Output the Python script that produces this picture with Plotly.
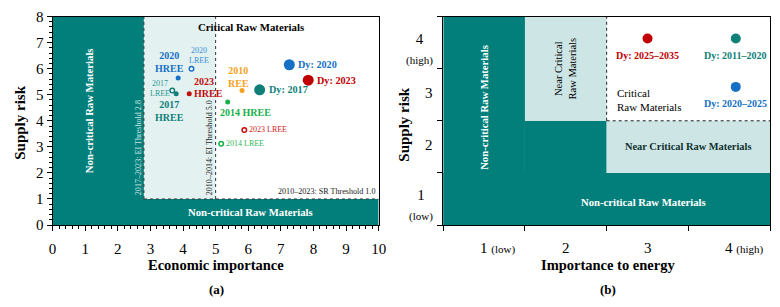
import plotly.graph_objects as go

# ---------------- Panel (a) data ----------------
hree_labels = ["2020<br>HREE", "2017<br>HREE", "2023", "2010<br>REE", "2014 HREE"]
hree_x = [3.85, 3.79, 4.19, 5.81, 5.37]
hree_y = [5.64, 5.04, 5.04, 5.16, 4.72]
hree_colors = ["#1670c4", "#0f7f78", "#c40d0d", "#f7a11c", "#16b04a"]

lree_labels = ["2020<br>LREE", "2017<br>LREE", "2023 LREE", "2014 LREE"]
lree_x = [4.26, 3.67, 5.88, 5.17]
lree_y = [6.00, 5.16, 3.65, 3.12]
lree_colors = ["#1670c4", "#0f7f78", "#c40d0d", "#16b04a"]

dy_labels = ["Dy: 2017", "Dy: 2020", "Dy: 2023"]
dy_x = [6.35, 7.26, 7.84]
dy_y = [5.19, 6.15, 5.56]
dy_colors = ["#0f7f78", "#1670c4", "#c00000"]

ei_thresholds = [2.8, 5.0]
sr_threshold = 1.0
a_xmax, a_ymax = 10, 8

# ---------------- Panel (b) data ----------------
b_labels = ["Dy: 2011–2020", "Dy: 2020–2025", "Dy: 2025–2035"]
b_x = [3.58, 3.58, 2.5]
b_y = [3.58, 2.65, 3.58]
b_colors = ["#0f8078", "#1670c4", "#c00000"]
b_xticks = ["1", "2", "3", "4"]
b_yticks = ["1", "2", "3", "4"]

TEAL = "#037f7b"
LIGHT_A = "#e3f1f1"
LIGHT_B = "#cde6e5"
FONT = "Liberation Serif"

fig = go.Figure()

# panel a markers
fig.add_trace(go.Scatter(x=hree_x, y=hree_y, mode="markers", xaxis="x", yaxis="y",
                         marker=dict(size=5, color=hree_colors), showlegend=False))
fig.add_trace(go.Scatter(x=lree_x, y=lree_y, mode="markers", xaxis="x", yaxis="y",
                         marker=dict(size=4.5, color="white", line=dict(width=1.5, color=lree_colors)),
                         showlegend=False))
fig.add_trace(go.Scatter(x=dy_x, y=dy_y, mode="markers", xaxis="x", yaxis="y",
                         marker=dict(size=11, color=dy_colors), showlegend=False))
# panel b markers
fig.add_trace(go.Scatter(x=b_x, y=b_y, mode="markers", xaxis="x2", yaxis="y2",
                         marker=dict(size=10, color=b_colors), showlegend=False))

shapes = []
# panel a regions
shapes.append(dict(type="rect", xref="x", yref="y", x0=0, x1=ei_thresholds[0], y0=0, y1=a_ymax,
                   fillcolor=TEAL, line_width=0, layer="below"))
shapes.append(dict(type="rect", xref="x", yref="y", x0=0, x1=a_xmax, y0=0, y1=sr_threshold,
                   fillcolor=TEAL, line_width=0, layer="below"))
shapes.append(dict(type="rect", xref="x", yref="y", x0=ei_thresholds[0], x1=ei_thresholds[1],
                   y0=sr_threshold, y1=a_ymax, fillcolor=LIGHT_A, line_width=0, layer="below"))
for t in ei_thresholds:
    shapes.append(dict(type="line", xref="x", yref="y", x0=t, x1=t, y0=sr_threshold, y1=a_ymax,
                       line=dict(color="#333333", width=1, dash="dot"), layer="below"))
shapes.append(dict(type="line", xref="x", yref="y", x0=ei_thresholds[0], x1=a_xmax,
                   y0=sr_threshold, y1=sr_threshold,
                   line=dict(color="#333333", width=1, dash="dot"), layer="below"))
# panel b regions
shapes.append(dict(type="rect", xref="x2", yref="y2", x0=0, x1=1, y0=0, y1=4,
                   fillcolor=TEAL, line_width=0, layer="below"))
shapes.append(dict(type="rect", xref="x2", yref="y2", x0=0, x1=4, y0=0, y1=1,
                   fillcolor=TEAL, line_width=0, layer="below"))
shapes.append(dict(type="rect", xref="x2", yref="y2", x0=1, x1=2, y0=1, y1=2,
                   fillcolor=TEAL, line_width=0, layer="below"))
shapes.append(dict(type="rect", xref="x2", yref="y2", x0=1, x1=2, y0=2, y1=4,
                   fillcolor=LIGHT_B, line_width=0, layer="below"))
shapes.append(dict(type="rect", xref="x2", yref="y2", x0=2, x1=4, y0=1, y1=2,
                   fillcolor=LIGHT_B, line_width=0, layer="below"))
shapes.append(dict(type="line", xref="x2", yref="y2", x0=2, x1=2, y0=2, y1=4,
                   line=dict(color="#222222", width=1, dash="dot"), layer="below"))
shapes.append(dict(type="line", xref="x2", yref="y2", x0=2, x1=4, y0=2, y1=2,
                   line=dict(color="#222222", width=1, dash="dot"), layer="below"))

ann = []

def A(text, x, y, xref="x", yref="y", size=12, color="black", bold=False, angle=0,
      xanchor="center", yanchor="middle", xshift=0, yshift=0, align="center"):
    t = f"<b>{text}</b>" if bold else text
    ann.append(dict(text=t, x=x, y=y, xref=xref, yref=yref, showarrow=False,
                    font=dict(family=FONT, size=size, color=color), textangle=angle,
                    xanchor=xanchor, yanchor=yanchor, xshift=xshift, yshift=yshift,
                    align=align))
    return ann[-1]

# panel a region text
A("Critical Raw Materials", 6.08, 7.6, size=10.8, bold=True)
A("Non-critical Raw Materials", 1.14, 4.4, size=10.7, bold=True, color="white", angle=-90)
A("Non-critical Raw Materials", 6.08, 0.5, size=10.7, bold=True, color="white")
A("2017–2023: EI Threshold 2.8", 2.62, 1.05, size=8.1, color="#cfe6e5", angle=-90,
  yanchor="bottom")
A("2010–2014: EI Threshold 5.0", 4.8, 1.05, size=8.1, color="#222222", angle=-90,
  yanchor="bottom")
A("2010–2023: SR Threshold 1.0", 9.95, 1.27, size=8.1, color="#222222", xanchor="right")

# panel a point labels
hree_label_colors = ["#1670c4", "#0f7f78", "#c40d0d", "#f7a11c", "#16b04a"]
hree_offsets = [(-9, 16, "center"), (-7, -17, "center"), (15, 12, "center"),
                (-4, 14, "center"), (-10, -10, "left")]
for lab, x, y, c, (dx, dy, xa) in zip(hree_labels, hree_x, hree_y, hree_label_colors, hree_offsets):
    A(lab, x, y, size=10, bold=True, color=c, xshift=dx, yshift=dy, xanchor=xa)
A("HREE", hree_x[2], hree_y[2], size=10, bold=True, color="#c40d0d", xshift=3, xanchor="left")

lree_label_colors = ["#3b8fd6", "#2a9990", "#d02020", "#2fb55a"]
lree_offsets = [(7, 13, "center"), (-12, 2, "center"), (3, 0, "left"), (3, 0, "left")]
for lab, x, y, c, (dx, dy, xa) in zip(lree_labels, lree_x, lree_y, lree_label_colors, lree_offsets):
    A(lab, x, y, size=8, color=c, xshift=dx, yshift=dy, xanchor=xa)

for lab, x, y, c in zip(dy_labels, dy_x, dy_y, dy_colors):
    A(lab, x, y, size=10.2, bold=True, color=c, xshift=7, xanchor="left")

# panel b texts
for lab, x, y, c in zip(b_labels, b_x, b_y, b_colors):
    A(lab, x, y, xref="x2", yref="y2", size=10, bold=True, color=c, yshift=-17)
A("Critical<br>Raw Materials", 2.1, 2.4, xref="x2", yref="y2", size=11, xanchor="left",
  align="left")
A("Near Critical<br>Raw Materials", 1.5, 3.0, xref="x2", yref="y2", size=10.5, angle=-90)
A("Near Critical Raw Materials", 3.0, 1.5, xref="x2", yref="y2", size=10.4, bold=True,
  color="#10302f")
A("Non-critical Raw Materials", 0.5, 2.25, xref="x2", yref="y2", size=10.7, bold=True,
  color="white", angle=-90)
A("Non-critical Raw Materials", 2.45, 0.45, xref="x2", yref="y2", size=10.7, bold=True,
  color="white")

# panel b tick labels
SMALL = "<span style='font-size:11px'>{}</span>"
for i, t in enumerate(b_xticks):
    extra = {0: " " + SMALL.format("(low)"), 3: " " + SMALL.format("(high)")}.get(i, "")
    a = A(t + extra, i + 0.5, 0.19, xref="x2", yref="paper", size=15, yanchor="middle")
    a["yshift"] = -4
    if extra:
        a["xshift"] = 13 if i == 0 else 15
for i, t in enumerate(b_yticks):
    sub = {0: "<br>" + SMALL.format("(low)"), 3: "<br>" + SMALL.format("(high)")}.get(i, "")
    a = A(t + sub, 0.5712, i + 0.5, xref="paper", yref="y2", size=15, xanchor="right")
    a["xshift"] = -8
    a["yshift"] = -6 if sub else 2

# axis titles and panel labels
A("Supply risk", 0.021, 0.606, xref="paper", yref="paper", size=15, bold=True, angle=-90)
A("Economic importance", 0.276, 0.117, xref="paper", yref="paper", size=14.5, bold=True)
A("(a)", 0.276, 0.033, xref="paper", yref="paper", size=13, bold=True)
A("Supply risk", 0.5205, 0.6, xref="paper", yref="paper", size=15, bold=True, angle=-90)
A("Importance to energy", 0.785, 0.117, xref="paper", yref="paper", size=14.5, bold=True)
A("(b)", 0.785, 0.033, xref="paper", yref="paper", size=13, bold=True)

ax_common = dict(showgrid=False, zeroline=False, showline=True, linecolor="black",
                 linewidth=1, mirror=True, ticks="outside", ticklen=5, tickcolor="black",
                 tickfont=dict(family=FONT, size=15, color="black"))
minor = dict(dtick=0.2, ticks="outside", ticklen=3, tickcolor="black")

fig.update_layout(
    width=780, height=307, margin=dict(l=0, r=0, t=0, b=0),
    paper_bgcolor="white", plot_bgcolor="white",
    xaxis=dict(domain=[0.0632, 0.4872], range=[0, a_xmax], dtick=1, minor=minor,
               ticklabelstandoff=5, anchor="y", **ax_common),
    yaxis=dict(domain=[0.2541, 0.9707], range=[0, a_ymax], dtick=1, minor=minor,
               anchor="x", **ax_common),
    xaxis2=dict(domain=[0.5712, 0.9962], range=[0, 4], dtick=1, showticklabels=False,
                anchor="y2", **ax_common),
    yaxis2=dict(domain=[0.2541, 0.9707], range=[0, 4], dtick=1, showticklabels=False,
                anchor="x2", **ax_common),
    shapes=shapes, annotations=ann,
)

fig.write_html("out.html")
